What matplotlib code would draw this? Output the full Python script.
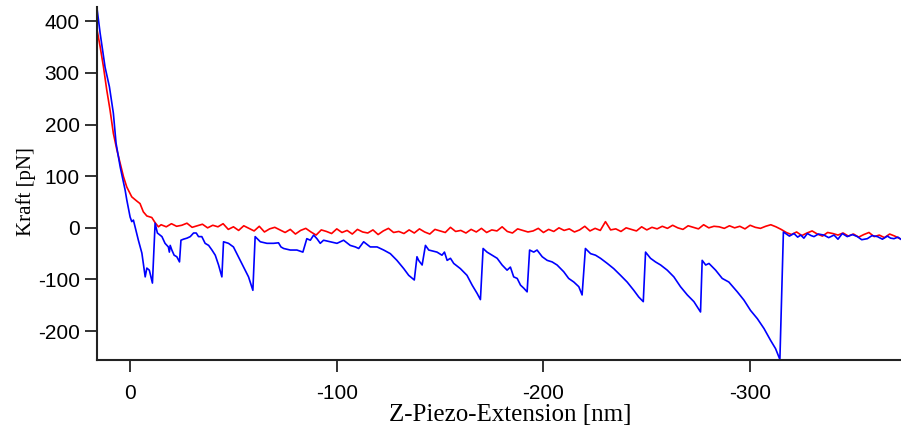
import numpy as np
import matplotlib.pyplot as plt

plt.rcParams['axes.unicode_minus'] = False

# approach curve (red): Z-Piezo-Extension [nm] / Kraft [pN]
red_x = [16.1, 14.5, 12.9, 11.3, 9.7, 8.1, 6.4, 4.8, 3.2, 1.6, -0.8, -3.2, -4.8, -6.4, -8.1, -10.5, -12.1, -13.7,
         -15, -17.5, -20, -22.5, -25, -27.5, -30, -32.5, -35, -37.5, -40, -42.5,
         -45, -47.5, -50, -52.5, -55, -57.5, -60, -62.5, -65, -67.5, -70, -72.5,
         -75, -77.5, -80, -82.5, -85, -87.5, -90, -92.5, -95, -97.5, -100, -102.5,
         -105, -107.5, -110, -112.5, -115, -117.5, -120, -122.5, -125, -127.5, -130, -132.5,
         -135, -137.5, -140, -142.5, -145, -147.5, -150, -152.5, -155, -157.5, -160, -162.5,
         -165, -167.5, -170, -172.5, -175, -177.5, -180, -182.5, -185, -187.5, -190, -192.5,
         -195, -197.5, -200, -202.5, -205, -207.5, -210, -212.5, -215, -217.5, -220, -222.5,
         -225, -227.5, -230, -232.5, -235, -237.5, -240, -242.5, -245, -247.5, -250, -252.5,
         -255, -257.5, -260, -262.5, -265, -267.5, -270, -272.5, -275, -277.5, -280, -282.5,
         -285, -287.5, -290, -292.5, -295, -297.5, -300, -302.5, -305, -307.5, -310, -312.5,
         -315, -317.5, -320, -322.5, -325, -327.5, -330, -332.5, -335, -337.5, -340, -342.5,
         -345, -347.5, -350, -352.5, -355, -357.5, -360, -362.5, -365, -367.5, -370, -372.5]
red_f = [386, 351, 312, 267, 228, 183, 151, 125, 99, 79, 60, 52, 47, 31, 23, 20, 10, 2,
         6, 2, 8, 3, 5, 9, 1, 4, 7, 0, 5, 2,
         8, -3, 2, -5, 4, -1, -6, 3, -8, -2, 1, -4,
         -9, -3, -12, -5, -1, -8, -14, -4, -7, -11, -2, -9,
         -5, -12, -3, -8, -10, -4, -13, -6, -1, -9, -7, -11,
         -4, -10, -2, -8, -12, -3, -6, -9, 1, -7, -5, -10,
         -3, -8, -1, -9, -4, -6, 2, -7, -10, -2, -5, -8,
         -6, -1, -9, -3, -7, 0, -5, -2, -8, -4, 3, -6,
         -1, -5, 12, -4, -2, -7, 0, -3, -6, 2, -4, 1,
         -2, 3, -1, 5, 0, -3, 4, 1, -2, 6, 0, 3,
         2, -1, 4, 0, 3, -2, 5, 1, -1, 3, 6, 2,
         -3, -9, -13, -8, -15, -10, -6, -12, -16, -9, -11, -14,
         -10, -16, -12, -18, -13, -9, -17, -14, -19, -12, -16, -21]

# retract curve (blue) with the unfolding peaks
blue_x = [16.1, 14.5, 12.1, 10.0, 8.1, 6.8, 4.8, 3.4, 2.4, 1.6, 0.0, -0.8, -1.6, -2.4, -4.0, -5.7, -7.3, -8.1,
          -9.3, -10.8, -12.1, -13.2, -15.4, -16.9, -18.5, -19.0, -19.4, -20.2, -21.3, -22.6, -23.9,
          -24.6, -25.8, -27.5, -29.1, -30.7, -32.0, -33.1, -34.7, -36.3, -38.0, -39.6, -41.2, -42.8, -44.4,
          -45.2, -47.6, -50.0, -52.4, -54.9, -57.3, -59.4,
          -60.5, -63.0, -66.2, -69.4, -71.8, -73.0, -74.3, -77.5, -80.7, -83.6,
          -85.5, -87.2, -88.8, -90.4, -92.0, -93.6, -96.9, -100.1, -103.3, -106.5, -109.0, -110.6,
          -113.0, -116.2, -119.5, -122.7, -125.9, -129.1, -132.4, -134.8, -137.5,
          -138.8, -139.6, -141.3, -142.9, -144.5, -148.5, -150.9, -152.1, -153.4, -155.0, -156.6,
          -159.8, -163.0, -165.5, -167.9, -169.5,
          -170.8, -172.7, -175.2, -177.6, -180.0, -182.4, -184.0, -185.6, -187.3, -188.9, -190.5, -192.1,
          -193.3, -195.3, -196.9, -199.4, -201.8, -204.2, -206.6, -209.8, -212.2, -214.7, -217.1, -218.7,
          -220.3, -222.8, -225.2, -227.6, -230.9, -234.0, -237.3, -240.5, -243.7, -246.1, -248.3,
          -249.4, -251.8, -254.2, -256.7, -259.9, -263.1, -266.3, -269.6, -272.8, -276.0,
          -276.8, -278.5, -280.1, -283.3, -286.5, -289.7, -293.8, -297.0, -300.2, -303.5, -306.7,
          -309.9, -312.3, -314.4,
          -316.1, -317.2, -319.0, -321.2, -323.0, -324.5, -326.0, -327.7, -329.5, -330.9, -333.0,
          -335.7, -338.0, -340.6, -342.5, -344.6, -347.0, -349.5, -351.9, -354.0, -356.7, -359.0,
          -361.6, -364.0, -366.4, -368.0, -369.6, -371.5, -372.9]
blue_f = [428, 377, 311, 273, 222, 164, 118, 92, 73, 54, 21, 12, 15, 2, -24, -49, -95, -78,
          -82, -107, 9, -10, -17, -30, -37, -47, -34, -43, -53, -56, -66,
          -24, -22, -20, -17, -10, -10, -17, -17, -30, -34, -43, -53, -72, -95,
          -27, -30, -37, -56, -76, -95, -121,
          -17, -27, -30, -30, -29, -37, -40, -43, -43, -47,
          -21, -24, -14, -21, -30, -24, -27, -30, -24, -34, -37, -40,
          -27, -37, -37, -43, -50, -63, -79, -92, -101,
          -56, -63, -72, -34, -43, -47, -53, -47, -63, -59, -69,
          -79, -92, -111, -127, -139,
          -40, -47, -53, -59, -72, -82, -76, -95, -98, -111, -117, -124,
          -43, -47, -43, -56, -63, -66, -72, -85, -98, -105, -114, -130,
          -40, -50, -53, -59, -69, -79, -92, -105, -121, -134, -143,
          -47, -59, -66, -72, -82, -95, -114, -130, -143, -163,
          -63, -72, -69, -82, -98, -105, -124, -140, -160, -176, -195,
          -218, -234, -255,
          -8, -11, -16, -11, -18, -14, -20, -11, -15, -17, -12,
          -14, -19, -14, -22, -11, -17, -13, -17, -23, -21, -15,
          -17, -22, -16, -20, -21, -18, -22]

fig = plt.figure(figsize=(9.01, 4.32), dpi=100)
ax = fig.add_axes([0.1077, 0.1667, 0.8923, 0.8173])

ax.plot(red_x, red_f, color='#ff0000', lw=1.2)
ax.plot(blue_x, blue_f, color='#0000ff', lw=1.2)

ax.set_xlim(16, -373)
ax.set_ylim(-256, 428)
ax.set_xticks([0, -100, -200, -300])
ax.set_yticks([-200, -100, 0, 100, 200, 300, 400])

for side in ['top', 'right']:
    ax.spines[side].set_visible(False)
for side in ['left', 'bottom']:
    ax.spines[side].set_linewidth(1.5)
    ax.spines[side].set_color('#222222')

ax.tick_params(direction='out', length=8.5, width=1.3, color='#222222', labelsize=15)
ax.tick_params(axis='x', pad=8.5)
ax.tick_params(axis='y', pad=4)
for lab in ax.get_xticklabels() + ax.get_yticklabels():
    lab.set_family('Liberation Sans')

ax.set_xlabel('Z-Piezo-Extension [nm]', family='Liberation Serif', fontsize=18)
ax.set_ylabel('Kraft [pN]', family='Liberation Serif', fontsize=15)
ax.xaxis.set_label_coords(0.514, -0.126)
ax.yaxis.set_label_coords(-0.076, 0.476)

fig.savefig('out.png', dpi=100)
